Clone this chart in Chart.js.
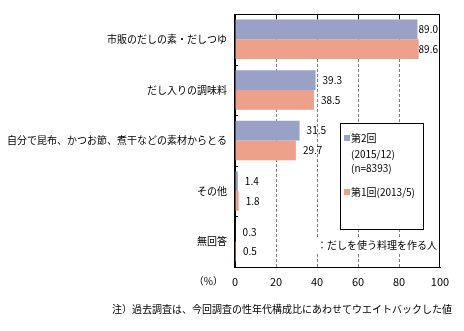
<!DOCTYPE html>
<html>
<head>
<meta charset="utf-8">
<script src="https://cdn.jsdelivr.net/npm/chart.js@4/dist/chart.umd.min.js"></script>
<style>
  body { margin: 0; background: #fff; }
</style>
</head>
<body>
<canvas id="dashiChart" width="464" height="331"></canvas>
<script>
// data
var categories = ['市販のだしの素・だしつゆ', 'だし入りの調味料', '自分で昆布、かつお節、煮干などの素材からとる', 'その他', '無回答'];
var round2 = [89.0, 39.3, 31.5, 1.4, 0.3];
var round1 = [89.6, 38.5, 29.7, 1.8, 0.5];
var xTicks = [0, 20, 40, 60, 80, 100];
var legend2 = ['第2回', '(2015/12)', '(n=8393)'];
var legend1 = ['第1回(2013/5)'];
var unitText = '（%）';
var baseText = '：だしを使う料理を作る人';
var noteText = '注）過去調査は、今回調査の性年代構成比にあわせてウエイトバックした値';

var fontFamily = '"Noto Sans CJK JP", "Noto Sans", sans-serif';
Chart.defaults.font.family = fontFamily;
Chart.defaults.font.size = 10;
Chart.defaults.color = '#000';

// frame, small ticks, value labels, legend box and notes
var extras = {
    id: 'extras',
    afterDatasetsDraw: function (chart) {
        var ctx = chart.ctx;
        var a = chart.chartArea;
        var xs = chart.scales.x;
        ctx.save();
        ctx.font = '10px ' + fontFamily;
        ctx.fillStyle = '#000';
        ctx.textBaseline = 'middle';
        ctx.textAlign = 'left';
        chart.data.datasets.forEach(function (ds, di) {
            chart.getDatasetMeta(di).data.forEach(function (bar, i) {
                var t = ds.data[i].toFixed(1);
                var w = ctx.measureText(t).width;
                var x = Math.min(bar.x + 7, a.right - 2 - w);
                ctx.fillText(t, x, bar.y);
            });
        });

        // outer frame
        ctx.strokeStyle = '#000';
        ctx.lineWidth = 1;
        ctx.strokeRect(Math.round(a.left) - 0.5, Math.round(a.top) + 0.5, Math.round(a.right - a.left), Math.round(a.bottom - a.top));

        // ticks on the top edge
        ctx.beginPath();
        xTicks.slice(1, -1).forEach(function (v) {
            var x = Math.round(xs.getPixelForValue(v)) + 0.5;
            ctx.moveTo(x, a.top);
            ctx.lineTo(x, a.top + 5);
        });
        // ticks between the categories
        var band = (a.bottom - a.top) / categories.length;
        for (var i = 1; i < categories.length; i++) {
            var y = Math.round(a.top + band * i) + 0.5;
            ctx.moveTo(a.left, y);
            ctx.lineTo(a.left + 3, y);
        }
        ctx.stroke();

        // legend box
        var bx = 340, by = 123, bw = 83, bh = 106;
        ctx.fillStyle = '#fff';
        ctx.fillRect(bx, by, bw, bh);
        ctx.strokeRect(bx + 0.5, by + 0.5, bw, bh);
        var ds = chart.data.datasets;
        ctx.fillStyle = ds[0].backgroundColor;
        ctx.fillRect(344, 135, 6, 6);
        ctx.fillStyle = ds[1].backgroundColor;
        ctx.fillRect(344, 189, 6, 6);
        ctx.fillStyle = '#000';
        ctx.fillText(legend2[0], 351, 138);
        ctx.fillText(legend2[1], 351, 154);
        ctx.fillText(legend2[2], 351, 168);
        ctx.fillText(legend1[0], 351, 192);

        // base note under the legend
        var bw2 = ctx.measureText(baseText).width;
        ctx.fillStyle = '#fff';
        ctx.fillRect(377 - bw2 / 2 - 1, 238, bw2 + 2, 14);
        ctx.fillStyle = '#000';
        ctx.textAlign = 'center';
        ctx.fillText(baseText, 377, 245);

        // unit and footnote
        ctx.textAlign = 'right';
        ctx.fillText(unitText, 223, 281);
        ctx.fillText(noteText, 452, 309);
        ctx.restore();
    }
};

var ctx = document.getElementById('dashiChart').getContext('2d');
var chart = new Chart(ctx, {
    type: 'bar',
    data: {
        labels: categories,
        datasets: [{
            label: '第2回',
            data: round2,
            backgroundColor: '#99A1C7'
        }, {
            label: '第1回',
            data: round1,
            backgroundColor: '#EDA08A'
        }]
    },
    options: {
        indexAxis: 'y',
        responsive: false,
        animation: false,
        layout: { padding: { top: 8, right: 24, left: 0, bottom: 0 } },
        categoryPercentage: 0.78,
        barPercentage: 1,
        plugins: { legend: { display: false }, tooltip: { enabled: false } },
        scales: {
            x: {
                min: 0,
                max: 100,
                ticks: { stepSize: 20, padding: 8, font: { size: 11 } },
                grid: {
                    drawTicks: false,
                    lineWidth: 1,
                    color: function (c) {
                        var v = c.tick ? c.tick.value : 0;
                        return (v === 0 || v === 100) ? 'rgba(0,0,0,0)' : '#7f7f7f';
                    }
                },
                border: { color: '#000', dash: [3, 2] },
                afterFit: function (s) { s.height = 64; }
            },
            y: {
                grid: { display: false, drawTicks: false },
                ticks: { padding: 8 },
                border: { color: '#000' },
                afterFit: function (s) { s.width = 235; }
            }
        }
    },
    plugins: [extras]
});
</script>
</body>
</html>
